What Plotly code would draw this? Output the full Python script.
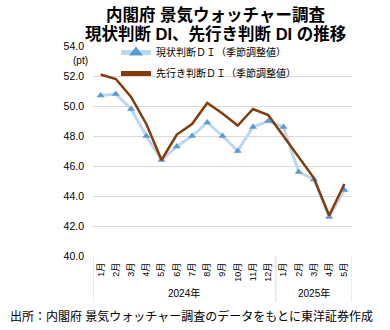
import plotly.graph_objects as go

# Monthly categories (Jan 2024 - May 2025)
months = ["1月", "2月", "3月", "4月", "5月", "6月", "7月", "8月", "9月", "10月", "11月", "12月",
          "1月", "2月", "3月", "4月", "5月"]
years = ["2024年", "2025年"]
year_spans = [(0, 11), (12, 16)]

# Economy Watchers Survey DI (seasonally adjusted)
current_di = [50.7, 50.8, 49.8, 48.0, 46.4, 47.3, 48.0, 48.9, 48.0, 47.0, 48.6, 49.0,
              48.6, 45.6, 45.1, 42.6, 44.4]
future_di = [52.1, 51.8, 50.6, 48.8, 46.4, 48.1, 48.8, 50.2, 49.5, 48.7, 49.8, 49.4,
             48.0, 46.6, 45.2, 42.7, 44.8]

series_names = ["現状判断ＤＩ（季節調整値）", "先行き判断ＤＩ（季節調整値）"]
y_ticks = [40, 42, 44, 46, 48, 50, 52, 54]

JP = "Liberation Sans, Arial, Noto Sans CJK JP"
GRID = "#d9d9d9"

x = list(range(len(months)))

fig = go.Figure()
fig.add_trace(go.Scatter(
    x=x, y=current_di, name=series_names[0], mode="lines+markers", legendgroup="a",
    line=dict(color="#bdd7ee", width=3),
    marker=dict(symbol="triangle-up", size=7, color="#5b9bd5"),
))
fig.add_trace(go.Scatter(
    x=x, y=future_di, name=series_names[1], mode="lines", legendgroup="b",
    line=dict(color="#843c0c", width=2.5),
))

# plot area geometry in pixels (used to place the outside-axis decorations)
L, R, T, B = 93, 38, 46, 74
W, H = 390, 330
ph = H - T - B
pw = W - L - R

def py(pix):
    return (H - B - pix) / ph

def px(pix):
    return (pix - L) / pw

shapes = []
# box around the month/year labels below the plot
bottom = py(302)
for xv in [-0.5, 11.5, 16.5]:
    shapes.append(dict(type="line", xref="x", yref="paper", x0=xv, x1=xv, y0=0, y1=bottom,
                       line=dict(color=GRID, width=1)))

annotations = []
for (a, b), yr in zip(year_spans, years):
    annotations.append(dict(text=yr, x=(a + b) / 2, xref="x", y=py(293), yref="paper",
                            showarrow=False, font=dict(family=JP, size=10, color="#000"),
                            xanchor="center", yanchor="middle"))

annotations.append(dict(text="(pt)", x=px(80), xref="paper", y=py(61), yref="paper",
                        showarrow=False, font=dict(family=JP, size=10, color="#000"),
                        xanchor="center", yanchor="middle"))

annotations.append(dict(text="<b>内閣府 景気ウォッチャー調査</b>", x=px(215), xref="paper",
                        y=py(15), yref="paper", showarrow=False,
                        font=dict(family=JP, size=16.5, color="#000"),
                        xanchor="center", yanchor="middle"))
annotations.append(dict(text="<b>現状判断 DI、先行き判断 DI の推移</b>", x=px(215), xref="paper",
                        y=py(33.5), yref="paper", showarrow=False,
                        font=dict(family=JP, size=16.5, color="#000"),
                        xanchor="center", yanchor="middle"))

annotations.append(dict(text="出所：内閣府 景気ウォッチャー調査のデータをもとに東洋証券作成",
                        x=px(8), xref="paper", y=py(316), yref="paper", showarrow=False,
                        font=dict(family=JP, size=12, color="#000"),
                        xanchor="left", yanchor="middle"))

fig.update_layout(
    width=W, height=H,
    margin=dict(l=L, r=R, t=T, b=B, pad=0),
    paper_bgcolor="white", plot_bgcolor="white",
    font=dict(family=JP, color="#000"),
    showlegend=True,
    legend=dict(x=px(116), y=py(38), xanchor="left", yanchor="top",
                bgcolor="rgba(0,0,0,0)", font=dict(family=JP, size=10, color="#000"),
                traceorder="grouped", tracegroupgap=2, itemsizing="constant"),
    shapes=shapes,
    annotations=annotations,
)
fig.update_xaxes(
    range=[-0.5, 16.5], tickmode="array", tickvals=x, ticktext=months,
    tickangle=-90, tickfont=dict(family=JP, size=9, color="#000"),
    showgrid=False, zeroline=False, showline=False, ticks="", ticklabelstandoff=4,
)
fig.update_yaxes(
    range=[40, 54], tickmode="array", tickvals=y_ticks, tickformat=".1f",
    tickfont=dict(family=JP, size=10.5, color="#000"),
    showgrid=True, gridcolor=GRID, gridwidth=1, zeroline=False, showline=False,
    ticks="", ticklabelstandoff=8,
)

fig.write_html("out.html")
